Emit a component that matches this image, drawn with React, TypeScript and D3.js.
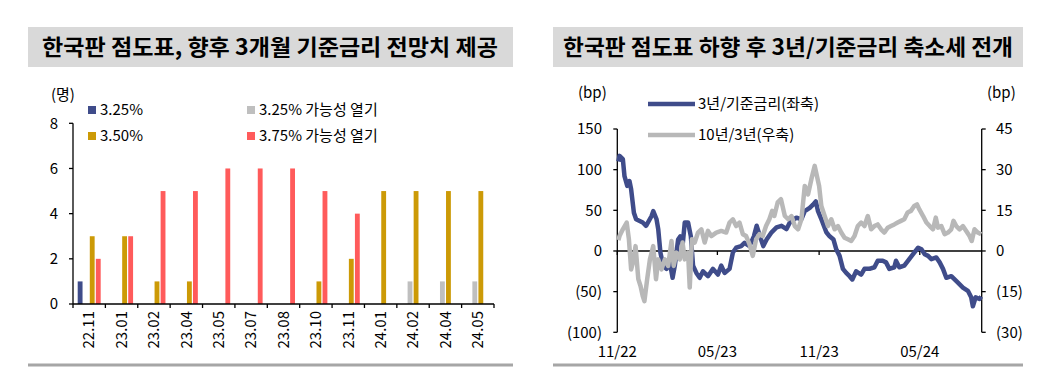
import * as d3 from "d3";

// ---- left chart: 한국판 점도표 ----
const categories = ["22.11", "23.01", "23.02", "23.04", "23.05", "23.07", "23.08", "23.10", "23.11", "24.01", "24.02", "24.04", "24.05"];
const seriesNames = ["3.25%", "3.25% 가능성 열기", "3.50%", "3.75% 가능성 열기"];
const rate325 = [1, 0, 0, 0, 0, 0, 0, 0, 0, 0, 0, 0, 0];
const open325 = [0, 0, 0, 0, 0, 0, 0, 0, 0, 0, 1, 1, 1];
const rate350 = [3, 3, 1, 1, 0, 0, 0, 1, 2, 5, 5, 5, 5];
const open375 = [2, 3, 5, 5, 6, 6, 6, 5, 4, 0, 0, 0, 0];
const barColors = ["#3F4C8A", "#BFBFBF", "#CC9A06", "#FF5B5B"];
const countTicks = [0, 2, 4, 6, 8];

// ---- right chart: 3년/기준금리, 10년/3년 (bp) ----
const spreadDates = [
  "2022-11-03", "2022-11-05", "2022-11-11", "2022-11-14", "2022-11-19", "2022-11-23", "2022-11-26", "2022-12-01",
  "2022-12-05", "2022-12-17", "2022-12-23", "2023-01-02", "2023-01-05", "2023-01-11", "2023-01-14", "2023-01-18",
  "2023-01-23", "2023-01-29", "2023-02-04", "2023-02-09", "2023-02-13", "2023-02-19", "2023-02-23", "2023-02-27",
  "2023-03-03", "2023-03-09", "2023-03-14", "2023-03-18", "2023-03-24", "2023-03-30", "2023-04-05", "2023-04-14",
  "2023-04-23", "2023-05-02", "2023-05-08", "2023-05-14", "2023-05-23", "2023-05-29", "2023-06-04", "2023-06-13",
  "2023-06-19", "2023-06-28", "2023-07-06", "2023-07-11", "2023-07-17", "2023-07-23", "2023-07-29", "2023-08-07",
  "2023-08-16", "2023-08-25", "2023-09-03", "2023-09-09", "2023-09-21", "2023-09-30", "2023-10-06", "2023-10-15",
  "2023-10-21", "2023-10-26", "2023-10-30", "2023-11-05", "2023-11-14", "2023-11-20", "2023-11-27", "2023-12-02",
  "2023-12-08", "2023-12-14", "2023-12-20", "2023-12-26", "2023-12-31", "2024-01-07", "2024-01-16", "2024-01-22",
  "2024-01-31", "2024-02-09", "2024-02-15", "2024-02-24", "2024-03-01", "2024-03-07", "2024-03-16", "2024-03-19",
  "2024-03-25", "2024-04-03", "2024-04-12", "2024-04-21", "2024-04-28", "2024-05-04", "2024-05-10", "2024-05-16",
  "2024-05-22", "2024-05-31", "2024-06-06", "2024-06-12", "2024-06-18", "2024-06-27", "2024-07-03", "2024-07-09",
  "2024-07-18", "2024-07-27", "2024-08-02", "2024-08-05", "2024-08-10", "2024-08-17", "2024-08-20",
];
const spreadValues = [
  110, 117, 113, 92, 80, 86, 76, 47,
  39, 35, 31, 43, 49, 39, 27, -2,
  -18, -22, -14, -33, -18, 14, 18, 6,
  35, 35, 18, -18, -27, -33, -25, -31,
  -22, -29, -18, -27, -22, -2, 4, 6,
  10, 6, 18, 31, 18, 6, 14, 23,
  29, 31, 27, 35, 41, 39, 49, 53,
  57, 61, 49, 39, 23, 18, 14, 2,
  -6, -22, -27, -31, -35, -25, -29, -22,
  -22, -20, -12, -12, -14, -22, -20, -12,
  -20, -18, -10, -2, 4, 2, -4, -6,
  -10, -8, -14, -22, -33, -31, -35, -39,
  -45, -49, -57, -68, -57, -59, -56,
];

const termDates = [
  "2022-11-03", "2022-11-05", "2022-11-11", "2022-11-18", "2022-11-22", "2022-11-26", "2022-11-30", "2022-12-04",
  "2022-12-09", "2022-12-13", "2022-12-17", "2022-12-20", "2022-12-25", "2022-12-30", "2023-01-05", "2023-01-10",
  "2023-01-14", "2023-01-20", "2023-01-26", "2023-02-01", "2023-02-07", "2023-02-11", "2023-02-16", "2023-02-22",
  "2023-02-27", "2023-03-03", "2023-03-09", "2023-03-12", "2023-03-16", "2023-03-21", "2023-03-27", "2023-04-02",
  "2023-04-08", "2023-04-14", "2023-04-20", "2023-04-29", "2023-05-08", "2023-05-17", "2023-05-23", "2023-05-29",
  "2023-06-04", "2023-06-10", "2023-06-16", "2023-06-22", "2023-06-28", "2023-07-04", "2023-07-10", "2023-07-16",
  "2023-07-22", "2023-07-28", "2023-08-03", "2023-08-08", "2023-08-12", "2023-08-18", "2023-08-24", "2023-08-31",
  "2023-09-06", "2023-09-12", "2023-09-18", "2023-09-24", "2023-09-30", "2023-10-06", "2023-10-12", "2023-10-18",
  "2023-10-24", "2023-10-28", "2023-11-01", "2023-11-05", "2023-11-11", "2023-11-17", "2023-11-23", "2023-11-29",
  "2023-12-05", "2023-12-11", "2023-12-17", "2023-12-23", "2023-12-29", "2024-01-04", "2024-01-10", "2024-01-16",
  "2024-01-22", "2024-01-28", "2024-02-03", "2024-02-09", "2024-02-15", "2024-02-21", "2024-02-27", "2024-03-04",
  "2024-03-10", "2024-03-16", "2024-03-22", "2024-03-28", "2024-04-03", "2024-04-09", "2024-04-15", "2024-04-21",
  "2024-04-26", "2024-04-30", "2024-05-07", "2024-05-13", "2024-05-19", "2024-05-25", "2024-05-30", "2024-06-03",
  "2024-06-09", "2024-06-15", "2024-06-21", "2024-06-27", "2024-07-01", "2024-07-06", "2024-07-12", "2024-07-18",
  "2024-07-24", "2024-07-30", "2024-08-03", "2024-08-08", "2024-08-14", "2024-08-20",
];
const termValues = [
  4, 5.5, 8, 10.5, 4.3, -6.8, -3.7, 1.8,
  -10.4, -12.9, -16.6, -18.5, -10.4, -3.1, 1.8, -10.4,
  -3.1, -6.8, -3.1, -5.5, 3.7, -5.5, -0.6, -3.1,
  3.1, -3.1, -0.6, -13.5, 4.3, 3.1, 6.8, 8,
  3.1, 7.4, 5.5, 6.8, 7.4, 6.8, 10.5, 11.7,
  9.2, 10.5, 6.2, 5.5, 2.5, -1.8, 4.3, 6.2,
  5.5, 9.2, 11.7, 14.8, 12.9, 17.9, 19.1, 12.9,
  11.7, 12.9, 9.2, 8, 11.7, 24, 20.9, 26.5,
  31.4, 27.7, 24, 16.6, 12.9, 9.2, 11.7, 8,
  9.2, 6.8, 4.9, 4.3, 3.7, 5.5, 9.2, 10.5,
  9.2, 12.9, 8, 9.2, 9.8, 8, 6.8, 8.6,
  9.2, 9.8, 10.5, 11.1, 11.7, 14.2, 14.8, 16.6,
  17.2, 15.4, 12.9, 10.5, 9.2, 8, 12.3, 8.6,
  9.2, 6.2, 6.8, 8, 11.1, 9.2, 8, 9.2,
  7.4, 5.5, 3.7, 8, 6.8, 6.2,
];
const leftTicks = [150, 100, 50, 0, -50, -100];
const rightTicks = [45, 30, 15, 0, -15, -30];
const monthTicks = ["2022-11-01", "2023-05-01", "2023-11-01", "2024-05-01"];

const FONT = "'Noto Sans CJK KR', 'Noto Sans', sans-serif";
const parse = d3.timeParse("%Y-%m-%d");
const fmtBp = (v: number) => (v < 0 ? `(${Math.abs(v)})` : `${v}`);

function DotPlot() {
  const x0 = d3.scaleBand<string>().domain(categories).range([73, 494]).paddingInner(0.29).paddingOuter(0.145);
  const x1 = d3.scaleBand<string>().domain(seriesNames).range([0, x0.bandwidth()]).paddingInner(0.2);
  const y = d3.scaleLinear().domain([0, 8]).range([304, 123.3]);
  const series = [rate325, open325, rate350, open375];
  const step = x0.step();
  const start = x0.range()[0];
  const legendPos = [
    [88, 110],
    [247, 110],
    [88, 136],
    [247, 136],
  ];

  return (
    <g fontFamily={FONT}>
      {series.map((vals, si) =>
        vals.map((v, i) =>
          v > 0 ? (
            <rect
              key={`${si}-${i}`}
              x={(x0(categories[i]) ?? 0) + (x1(seriesNames[si]) ?? 0)}
              y={y(v)}
              width={x1.bandwidth()}
              height={y(0) - y(v)}
              fill={barColors[si]}
            />
          ) : null
        )
      )}
      <line x1={73} x2={73} y1={y(8)} y2={y(0)} stroke="#000" strokeWidth={1.3} />
      <line x1={73} x2={494} y1={y(0)} y2={y(0)} stroke="#000" strokeWidth={1.3} />
      {countTicks.map((t) => (
        <g key={t}>
          <line x1={69} x2={73} y1={y(t)} y2={y(t)} stroke="#000" strokeWidth={1.3} />
          <text x={58} y={y(t)} dy="0.35em" textAnchor="end" fontSize={15}>
            {t}
          </text>
        </g>
      ))}
      {d3.range(categories.length + 1).map((i) => (
        <line key={i} x1={start + i * step} x2={start + i * step} y1={y(0)} y2={y(0) + 4} stroke="#000" strokeWidth={1.3} />
      ))}
      {categories.map((c) => {
        const cx = (x0(c) ?? 0) + x0.bandwidth() / 2;
        return (
          <text key={c} transform={`translate(${cx},311) rotate(-90)`} dy="0.35em" textAnchor="end" fontSize={15}>
            {c}
          </text>
        );
      })}
      <text x={51} y={95} dy="0.35em" fontSize={15}>
        (명)
      </text>
      {seriesNames.map((s, i) => (
        <g key={s}>
          <rect x={legendPos[i][0]} y={legendPos[i][1] - 4} width={8} height={8} fill={barColors[i]} />
          <text x={legendPos[i][0] + 12} y={legendPos[i][1]} dy="0.35em" fontSize={15}>
            {s}
          </text>
        </g>
      ))}
    </g>
  );
}

function SpreadChart() {
  const x = d3.scaleTime().domain([parse("2022-11-01")!, parse("2024-08-21")!]).range([617.3, 981.7]);
  const yL = d3.scaleLinear().domain([-100, 150]).range([332.3, 129]);
  const yR = d3.scaleLinear().domain([-30, 45]).range([332.3, 129]);
  const spread = spreadDates.map((d, i) => ({ date: parse(d)!, v: spreadValues[i] }));
  const term = termDates.map((d, i) => ({ date: parse(d)!, v: termValues[i] }));
  const lineL = d3.line<{ date: Date; v: number }>().x((d) => x(d.date)).y((d) => yL(d.v));
  const lineR = d3.line<{ date: Date; v: number }>().x((d) => x(d.date)).y((d) => yR(d.v));
  const [xa, xb] = x.range();

  return (
    <g fontFamily={FONT}>
      <line x1={xa} x2={xa} y1={yL(150)} y2={yL(-100)} stroke="#000" strokeWidth={1.3} />
      <line x1={xb} x2={xb} y1={yL(150)} y2={yL(-100)} stroke="#000" strokeWidth={1.3} />
      {leftTicks.map((t) => (
        <g key={t}>
          <line x1={xa - 4} x2={xa} y1={yL(t)} y2={yL(t)} stroke="#000" strokeWidth={1.3} />
          <text x={602} y={yL(t)} dy="0.35em" textAnchor="end" fontSize={15}>
            {fmtBp(t)}
          </text>
        </g>
      ))}
      {rightTicks.map((t) => (
        <g key={t}>
          <line x1={xb} x2={xb + 4} y1={yR(t)} y2={yR(t)} stroke="#000" strokeWidth={1.3} />
          <text x={996} y={yR(t)} dy="0.35em" fontSize={15}>
            {fmtBp(t)}
          </text>
        </g>
      ))}
      <line x1={xa} x2={xb} y1={yL(0)} y2={yL(0)} stroke="#000" strokeWidth={1.3} />
      {monthTicks.map((m) => {
        const px = x(parse(m)!);
        return (
          <g key={m}>
            <line x1={px} x2={px} y1={yL(0)} y2={yL(0) + 4} stroke="#000" strokeWidth={1.3} />
            <text x={px} y={352} dy="0.35em" textAnchor="middle" fontSize={15}>
              {d3.timeFormat("%m/%y")(parse(m)!)}
            </text>
          </g>
        );
      })}
      <path d={lineL(spread) ?? ""} fill="none" stroke="#3F4C8A" strokeWidth={4.5} strokeLinejoin="round" />
      <path d={lineR(term) ?? ""} fill="none" stroke="#B8B8B8" strokeWidth={4.5} strokeLinejoin="round" />
      <text x={578} y={93} dy="0.35em" fontSize={15}>
        (bp)
      </text>
      <text x={987} y={93} dy="0.35em" fontSize={15}>
        (bp)
      </text>
      <line x1={648} x2={695} y1={104} y2={104} stroke="#3F4C8A" strokeWidth={4.5} />
      <text x={698} y={104} dy="0.35em" fontSize={15}>
        3년/기준금리(좌축)
      </text>
      <line x1={648} x2={695} y1={135} y2={135} stroke="#B8B8B8" strokeWidth={4.5} />
      <text x={698} y={135} dy="0.35em" fontSize={15}>
        10년/3년(우축)
      </text>
    </g>
  );
}

export default function App() {
  return (
    <svg width={1051} height={367} style={{ position: "absolute", left: 0, top: 0, background: "#fff" }}>
      <rect x={28} y={27} width={485} height={40} fill="#D9D9D9" />
      <text x={270} y={47} dy="0.35em" textAnchor="middle" fontSize={22} fontWeight="bold" fontFamily={FONT}
        textLength={456} lengthAdjust="spacingAndGlyphs">
        한국판 점도표, 향후 3개월 기준금리 전망치 제공
      </text>
      <rect x={553} y={27} width={470} height={40} fill="#D9D9D9" />
      <text x={788} y={47} dy="0.35em" textAnchor="middle" fontSize={22} fontWeight="bold" fontFamily={FONT}
        textLength={450} lengthAdjust="spacingAndGlyphs">
        한국판 점도표 하향 후 3년/기준금리 축소세 전개
      </text>
      <DotPlot />
      <SpreadChart />
      <line x1={28} x2={513} y1={365} y2={365} stroke="#A6A6A6" strokeWidth={3} />
      <line x1={553} x2={1023} y1={365} y2={365} stroke="#A6A6A6" strokeWidth={3} />
    </svg>
  );
}
